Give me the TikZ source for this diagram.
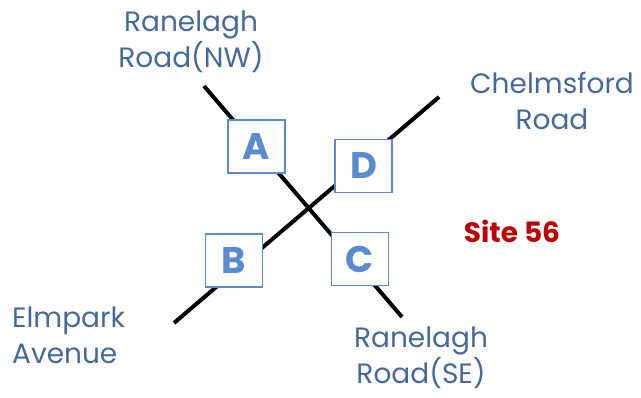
\documentclass[tikz,border=0pt]{standalone}
\usepackage{fontspec}
\setmainfont{Poppins}
\definecolor{roadtxt}{HTML}{46699B}
\definecolor{boxblue}{HTML}{5A8ACF}
\definecolor{sitered}{HTML}{C00000}
\begin{document}
\begin{tikzpicture}[x=1pt,y=-1pt,
  road/.style={line width=4pt,black},
  leg/.style={draw=boxblue,line width=1.8pt,fill=white,minimum width=57pt,minimum height=53pt,inner sep=0pt,text=boxblue,font=\bfseries\fontsize{37}{37}\selectfont},
  lbl/.style={text=roadtxt,font=\fontsize{28}{36}\selectfont,inner sep=0pt,align=center}]
\useasboundingbox (0,0) rectangle (641,398);
\coordinate (nw) at (204,86);
\coordinate (se) at (402,317);
\coordinate (sw) at (174,323);
\coordinate (ne) at (439,97);
\draw[road] (nw) -- (se);
\draw[road] (sw) -- (ne);
\node[leg] (A) at (256.5,146.5) {A};
\node[leg] (D) at (363.5,166) {D};
\node[leg] (B) at (234,260.5) {B};
\node[leg] (C) at (360,259) {C};
\node[lbl] (nwl) at (191,42) {Ranelagh\\Road(NW)};
\node[lbl] (nel) at (552,101) {Chelmsford\\Road};
\node[lbl,align=left,anchor=west] (swl) at (12,335) {Elmpark\\Avenue};
\node[lbl] (sel) at (421,358) {Ranelagh\\Road(SE)};
\node[text=sitered,font=\bfseries\fontsize{28}{28}\selectfont,inner sep=0pt] (site) at (512,231) {Site 56};
\end{tikzpicture}
\end{document}
